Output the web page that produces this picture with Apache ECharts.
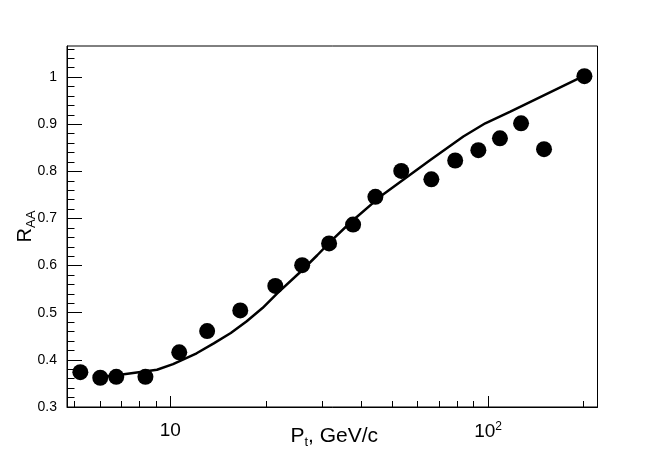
<!DOCTYPE html>
<html>
<head>
<meta charset="utf-8">
<script src="https://cdn.jsdelivr.net/npm/echarts@6/dist/echarts.min.js"></script>
<style>
html,body{margin:0;padding:0;background:#fff;}
#chart{width:664px;height:454px;}
</style>
</head>
<body>
<div id="chart"></div>
<script>
// Measured points
var ptValues  = [5.21, 6.02, 6.76, 8.35, 10.67, 13.06, 16.6, 21.4, 26.0, 31.6, 37.6, 44.2, 53.3, 66.3, 78.8, 93.2, 109, 127, 150, 201];
var raaValues = [0.374, 0.362, 0.364, 0.364, 0.416, 0.461, 0.505, 0.557, 0.601, 0.647, 0.687, 0.746, 0.801, 0.783, 0.823, 0.845, 0.870, 0.902, 0.847, 1.002];
// Model curve
var curvePt  = [6.2, 7.05, 9.08, 10.2, 12.1, 13.7, 15.5, 17.4, 19.5, 21.7, 25.7, 29.0, 31.9, 36.8, 45.8, 65.8, 83.6, 98, 117.5, 201];
var curveRaa = [0.364, 0.369, 0.379, 0.391, 0.414, 0.435, 0.457, 0.482, 0.510, 0.541, 0.587, 0.622, 0.651, 0.691, 0.7465, 0.824, 0.874, 0.902, 0.927, 1.003];
// Ticks
var xMajorTicks = [10, 100];
var xMinorTicks = [5, 6, 7, 8, 9, 20, 30, 40, 50, 60, 70, 80, 90, 200];
var yMajorTicks = [0.3, 0.4, 0.5, 0.6, 0.7, 0.8, 0.9, 1.0];
var yMinorTicks = [0.32, 0.34, 0.36, 0.38, 0.42, 0.44, 0.46, 0.48, 0.52, 0.54, 0.56, 0.58,
                   0.62, 0.64, 0.66, 0.68, 0.72, 0.74, 0.76, 0.78, 0.82, 0.84, 0.86, 0.88,
                   0.92, 0.94, 0.96, 0.98, 1.02, 1.04, 1.06];

var X_MIN = 4.73, X_MAX = 221, Y_MIN = 0.3, Y_MAX = 1.066;
var FONT = 'Liberation Sans, Arial, Helvetica, sans-serif';

function zip(a, b) { return a.map(function (v, i) { return [v, b[i]]; }); }

var chart = echarts.init(document.getElementById('chart'), null, {renderer: 'canvas'});
chart.setOption({
  animation: false,
  backgroundColor: '#fff',
  grid: {left: 67, right: 66.5, top: 46, bottom: 47, show: true, borderColor: '#000', borderWidth: 1,
         backgroundColor: 'transparent', containLabel: false, outerBoundsMode: 'none'},
  xAxis: [{
    type: 'log', min: X_MIN, max: X_MAX, position: 'bottom',
    axisLine: {show: true, lineStyle: {color: '#000', width: 1}},
    axisTick: {show: true, inside: true, length: 11, lineStyle: {color: '#000', width: 1}, customValues: xMajorTicks},
    axisLabel: {show: true, customValues: xMajorTicks, margin: 14, color: '#000', fontFamily: FONT, fontSize: 19,
      formatter: function (v) { return Math.abs(v - 10) < 1e-6 ? '10' : '10{sup|2}'; },
      rich: {sup: {fontSize: 12, verticalAlign: 'top', padding: [0, 0, 9, 0], color: '#000', fontFamily: FONT}}},
    splitLine: {show: false}, minorTick: {show: false},
    name: 'P{sub|t}, GeV/c', nameLocation: 'middle', nameGap: 16, nameMoveOverlap: false,
    nameTextStyle: {color: '#000', fontFamily: FONT, fontSize: 21, padding: [0, 0, 0, 4],
      rich: {sub: {fontSize: 13, verticalAlign: 'bottom', padding: [13, 0, 0, 0], color: '#000', fontFamily: FONT}}}
  }, {
    type: 'log', min: X_MIN, max: X_MAX, position: 'bottom',
    axisLine: {show: false},
    axisTick: {show: true, inside: true, length: 6, lineStyle: {color: '#000', width: 1}, customValues: xMinorTicks},
    axisLabel: {show: false}, splitLine: {show: false}
  }],
  yAxis: [{
    type: 'value', min: Y_MIN, max: Y_MAX, position: 'left',
    axisLine: {show: true, lineStyle: {color: '#000', width: 1}},
    axisTick: {show: true, inside: true, length: 15, lineStyle: {color: '#000', width: 1}, customValues: yMajorTicks},
    axisLabel: {show: true, customValues: yMajorTicks, margin: 10, color: '#000', fontFamily: FONT, fontSize: 14,
      formatter: function (v) { return Math.abs(v - 1) < 1e-6 ? '1' : v.toFixed(1); }},
    splitLine: {show: false},
    name: 'R{sub|AA}', nameLocation: 'middle', nameRotate: 90, nameGap: 29, nameMoveOverlap: false,
    nameTextStyle: {color: '#000', fontFamily: FONT, fontSize: 20,
      rich: {sub: {fontSize: 13, verticalAlign: 'bottom', padding: [12, 0, 0, 0], color: '#000', fontFamily: FONT}}}
  }, {
    type: 'value', min: Y_MIN, max: Y_MAX, position: 'left',
    axisLine: {show: false},
    axisTick: {show: true, inside: true, length: 7.5, lineStyle: {color: '#000', width: 1}, customValues: yMinorTicks},
    axisLabel: {show: false}, splitLine: {show: false}
  }],
  series: [{
    type: 'line', xAxisIndex: 0, yAxisIndex: 0,
    data: zip(curvePt, curveRaa), showSymbol: false, symbol: 'none', smooth: false,
    lineStyle: {color: '#000', width: 2.5}, z: 2
  }, {
    type: 'scatter', xAxisIndex: 0, yAxisIndex: 0,
    data: zip(ptValues, raaValues), symbol: 'circle', symbolSize: 16,
    itemStyle: {color: '#000', opacity: 1}, z: 3
  }]
});
</script>
</body>
</html>
